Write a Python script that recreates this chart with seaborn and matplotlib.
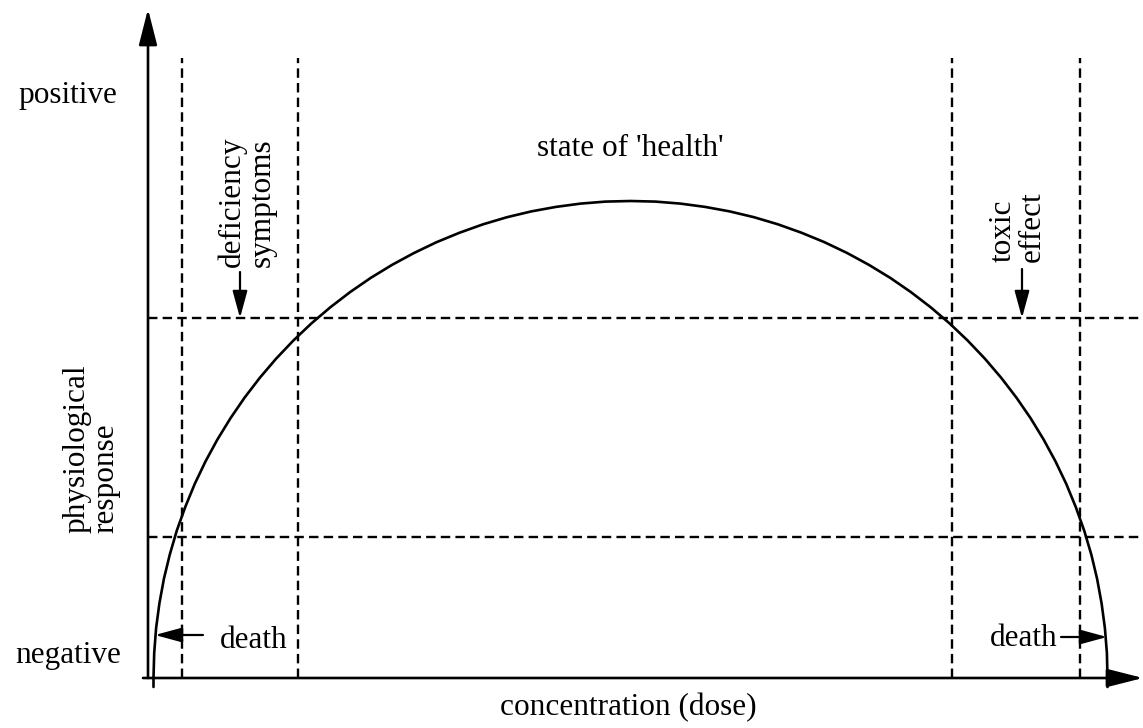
import matplotlib
matplotlib.use("Agg")
import matplotlib.pyplot as plt
import seaborn as sns
import pandas as pd

# ── DATA ──────────────────────────────────────────────────────────────────────
# dose-response curve (dose, response)
dose = [5.5, 5.5, 6.2, 8.1, 11.4, 15.9, 21.8, 28.8, 37.2, 46.7, 57.5, 69.4,
        82.5, 96.6, 111.8, 128.0, 145.2, 163.3, 182.3, 202.1, 222.7, 244.0,
        266.0, 288.5, 311.6, 335.1, 359.0, 383.3, 407.9, 432.6, 457.5,
        482.5,
        507.5, 532.4, 557.1, 581.7, 606.0, 629.9, 653.4, 676.5, 699.1, 721.0,
        742.3, 762.9, 782.7, 801.7, 819.8, 837.0, 853.2, 868.4, 882.6, 895.6,
        907.5, 918.3, 927.8, 936.2, 943.3, 949.1, 953.6, 956.9, 958.9, 959.5,
        959.5]
response = [-9, 0, 25.0, 49.9, 74.6, 99.2, 123.5, 147.4, 170.9, 194.0, 216.6,
            238.5, 259.8, 280.4, 300.2, 319.2, 337.3, 354.5, 370.7, 385.9,
            400.1, 413.1, 425.0, 435.8, 445.3, 453.7, 460.8, 466.6, 471.1,
            474.4, 476.4,
            477,
            476.4, 474.4, 471.1, 466.6, 460.8, 453.7, 445.3, 435.8, 425.0,
            413.1, 400.1, 385.9, 370.7, 354.5, 337.3, 319.2, 300.2, 280.4,
            259.8, 238.5, 216.6, 194.0, 170.9, 147.4, 123.5, 99.2, 74.6, 49.9,
            25.0, 0, -9]

zone_bounds = [34, 150, 804, 932]      # vertical dashed lines (dose)
response_levels = [141, 360]           # horizontal dashed lines (response)

X_MIN, X_MAX = -148, 995
Y_MIN, Y_MAX = -50, 678

FONT = ["Liberation Serif", "DejaVu Serif"]
FS = 22.5
DASH = (0, (4.0, 2.2))

# ── PLOT ──────────────────────────────────────────────────────────────────────
sns.set_style("white")
plt.rcParams["font.family"] = FONT

fig = plt.figure(figsize=(11.43, 7.28), dpi=100)
ax = fig.add_axes([0, 0, 1, 1])

df = pd.DataFrame({"dose": dose, "response": response})
sns.lineplot(data=df, x="dose", y="response", sort=False, estimator=None,
             color="black", lw=1.9, ax=ax)

# dashed zone boundaries
for xb in zone_bounds:
    ax.plot([xb, xb], [0, 620], color="black", lw=1.7, ls=DASH)
for yl in response_levels:
    ax.plot([0, X_MAX], [yl, yl], color="black", lw=1.7, ls=DASH)

# axes with arrowheads
axis_arrow = dict(arrowstyle="-|>,head_length=1.3,head_width=0.33",
                  color="black", lw=1.9, mutation_scale=17,
                  shrinkA=0, shrinkB=0)
ax.annotate("", xy=(0, 669), xytext=(0, 0), arrowprops=axis_arrow)
ax.annotate("", xy=(X_MAX, 0), xytext=(-5, 0), arrowprops=axis_arrow)

# small pointer arrows
ptr = dict(arrowstyle="-|>,head_length=1.1,head_width=0.3",
           color="black", lw=1.6, mutation_scale=15, shrinkA=0, shrinkB=0)
ax.annotate("", xy=(92, 360), xytext=(92, 406), arrowprops=ptr)
ax.annotate("", xy=(874, 360), xytext=(874, 409), arrowprops=ptr)
ax.annotate("", xy=(7, 43), xytext=(55, 43), arrowprops=ptr)
ax.annotate("", xy=(959, 41), xytext=(913, 41), arrowprops=ptr)

# labels
txt = dict(fontsize=FS, color="black")
ax.text(-80, 583, "positive", ha="center", va="center", **txt)
ax.text(-80, 23, "negative", ha="center", va="center", **txt)
ax.text(480, -30, "concentration (dose)", ha="center", va="center", **txt)
ax.text(482, 530, "state of 'health'", ha="center", va="center", **txt)
ax.text(-57, 145, "physiological\nresponse", rotation=90, ha="center",
        va="bottom", multialignment="left", linespacing=1.0, **txt)
ax.text(99, 411, "deficiency\nsymptoms", rotation=90, ha="center",
        va="bottom", multialignment="left", linespacing=1.0, **txt)
ax.text(870, 416, "toxic\neffect", rotation=90, ha="center",
        va="bottom", multialignment="left", linespacing=1.0, **txt)
ax.text(106, 38, "death", ha="center", va="center", **txt)
ax.text(876, 40, "death", ha="center", va="center", **txt)

ax.set_xlim(X_MIN, X_MAX)
ax.set_ylim(Y_MIN, Y_MAX)
ax.axis("off")

fig.savefig("out.png", dpi=100)
